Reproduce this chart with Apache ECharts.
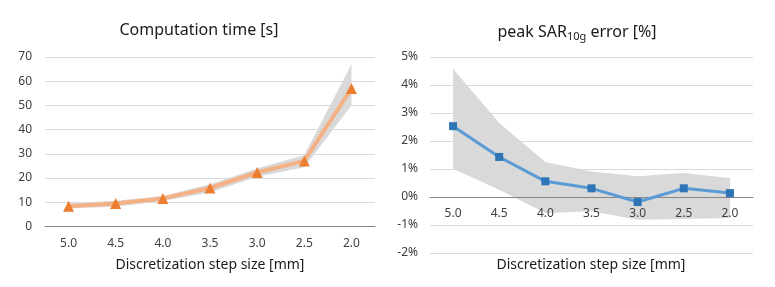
<!DOCTYPE html>
<html>
<head>
<meta charset="utf-8">
<script src="https://cdn.jsdelivr.net/npm/echarts@6/dist/echarts.min.js"></script>
<style>
  html, body { margin: 0; padding: 0; background: #fff; }
  #chart { width: 775px; height: 287px; }
</style>
</head>
<body>
<div id="chart"></div>
<script>
// step sizes [mm]
var steps = ['5.0', '4.5', '4.0', '3.5', '3.0', '2.5', '2.0']

// computation time [s]
var timeMean = [8.4, 9.5, 11.6, 15.9, 22.3, 27.1, 57]
var timeLow = [7.5, 8.2, 10.5, 14.0, 20.5, 24.5, 50]
var timeHigh = [9.6, 10.6, 12.6, 17.5, 24.0, 29.5, 67]

// peak SAR10g error [%]
var sarMean = [2.53, 1.43, 0.56, 0.31, -0.18, 0.31, 0.14]
var sarLow = [1.01, 0.26, -0.57, -0.51, -0.81, -0.79, -0.75]
var sarHigh = [4.58, 2.64, 1.25, 0.91, 0.74, 0.86, 0.68]

var font = '"Noto Sans", sans-serif'
var gridColor = '#D9D9D9'
var bandColor = '#D9D9D9'

function spread(lo, hi) {
  return hi.map(function (v, i) { return +(v - lo[i]).toFixed(3) })
}

function bandSeries(idx, lo, hi) {
  return [
    {
      type: 'line', xAxisIndex: idx, yAxisIndex: idx,
      stack: 'band' + idx, stackStrategy: 'all',
      data: lo, symbol: 'none', silent: true,
      lineStyle: { opacity: 0 }
    },
    {
      type: 'line', xAxisIndex: idx, yAxisIndex: idx,
      stack: 'band' + idx, stackStrategy: 'all',
      data: spread(lo, hi), symbol: 'none', silent: true,
      lineStyle: { opacity: 0 },
      areaStyle: { color: bandColor, opacity: 1 }
    }
  ]
}

function titleText(text, left, top, size) {
  return {
    text: text, left: left, top: top, padding: 0, textAlign: 'center',
    textStyle: { fontFamily: font, fontSize: size, fontWeight: 'normal', color: '#1a1a1a' }
  }
}

var axisLabelStyle = { fontFamily: font, fontSize: 12, color: '#404040' }

var chart = echarts.init(document.getElementById('chart'))
chart.setOption({
  animation: false,
  title: [
    titleText('Computation time [s]', 199, 22, 16),
    {
      text: 'peak SAR{sub|10g} error [%]', left: 577, top: 22, padding: 0, textAlign: 'center',
      textStyle: {
        fontFamily: font, fontSize: 16, fontWeight: 'normal', color: '#1a1a1a',
        rich: {
          sub: { fontFamily: font, fontSize: 11, color: '#1a1a1a', verticalAlign: 'bottom', padding: [9, 0, 0, 0] }
        }
      }
    },
    titleText('Discretization step size [mm]', 210, 258, 14),
    titleText('Discretization step size [mm]', 591, 258, 14)
  ],
  grid: [
    { left: 45, right: 400, top: 57, bottom: 60.5 },
    { left: 430, right: 22, top: 57, bottom: 34 }
  ],
  xAxis: [
    {
      type: 'category', gridIndex: 0, data: steps, boundaryGap: true,
      axisTick: { show: false },
      axisLine: { lineStyle: { color: '#868686', width: 1 } },
      axisLabel: Object.assign({ margin: 11 }, axisLabelStyle),
      z: 3
    },
    {
      // Excel puts the category axis on the 0% line, two steps above the bottom
      type: 'category', gridIndex: 1, data: steps, boundaryGap: true,
      position: 'bottom', offset: -56,
      axisTick: { show: false },
      axisLine: { onZero: false, lineStyle: { color: '#868686', width: 1 } },
      axisLabel: Object.assign({ margin: 11 }, axisLabelStyle),
      z: 3
    }
  ],
  yAxis: [
    {
      type: 'value', gridIndex: 0, min: 0, max: 70, interval: 10,
      axisLine: { show: false }, axisTick: { show: false },
      axisLabel: Object.assign({ margin: 13 }, axisLabelStyle),
      splitLine: { lineStyle: { color: gridColor } }
    },
    {
      type: 'value', gridIndex: 1, min: -2, max: 5, interval: 1,
      axisLine: { show: false }, axisTick: { show: false },
      axisLabel: Object.assign({ margin: 12, formatter: '{value}%' }, axisLabelStyle),
      splitLine: { lineStyle: { color: gridColor } }
    }
  ],
  series: bandSeries(0, timeLow, timeHigh).concat(bandSeries(1, sarLow, sarHigh)).concat([
    {
      type: 'line', xAxisIndex: 0, yAxisIndex: 0, data: timeMean,
      symbol: 'triangle', symbolSize: 11,
      itemStyle: { color: '#ED7D31' },
      lineStyle: { color: '#F4B183', width: 4 },
      z: 5
    },
    {
      type: 'line', xAxisIndex: 1, yAxisIndex: 1, data: sarMean,
      symbol: 'rect', symbolSize: 8,
      itemStyle: { color: '#2E75B6' },
      lineStyle: { color: '#5B9BD5', width: 3 },
      z: 5
    }
  ])
})
</script>
</body>
</html>
